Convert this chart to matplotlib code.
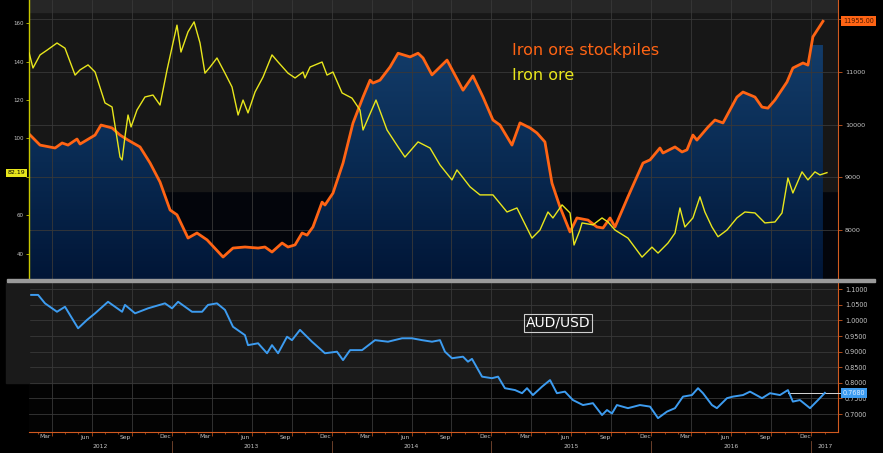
import numpy as np
import matplotlib.pyplot as plt
import matplotlib.transforms as mtransforms
from matplotlib.colors import LinearSegmentedColormap
from matplotlib.patches import Rectangle

# Iron ore stockpiles (right axis, top panel)
stock_t = [2012.116, 2012.178, 2012.272, 2012.316, 2012.353, 2012.409, 2012.428, 2012.522, 2012.559, 2012.628,
           2012.678, 2012.728, 2012.803, 2012.866, 2012.928, 2012.991, 2013.034, 2013.103, 2013.159, 2013.222,
           2013.322, 2013.384, 2013.459, 2013.541, 2013.584, 2013.628, 2013.691, 2013.728, 2013.772, 2013.816,
           2013.847, 2013.884, 2013.941, 2013.959, 2014.009, 2014.072, 2014.134, 2014.197, 2014.241, 2014.259,
           2014.303, 2014.366, 2014.416, 2014.491, 2014.541, 2014.572, 2014.628, 2014.722, 2014.822, 2014.884,
           2014.947, 2015.009, 2015.053, 2015.128, 2015.178, 2015.241, 2015.284, 2015.334, 2015.378, 2015.428,
           2015.491, 2015.534, 2015.603, 2015.659, 2015.697, 2015.741, 2015.772, 2015.853, 2015.947, 2015.991,
           2016.053, 2016.072, 2016.147, 2016.191, 2016.222, 2016.259, 2016.284, 2016.353, 2016.397, 2016.447,
           2016.534, 2016.572, 2016.647, 2016.691, 2016.728, 2016.772, 2016.847, 2016.884, 2016.947, 2016.978,
           2017.009, 2017.072]
stock_v = [9800, 9610, 9555, 9650, 9610, 9725, 9630, 9800, 9990, 9935,
           9800, 9705, 9575, 9270, 8910, 8380, 8290, 7850, 7945, 7815,
           7490, 7660, 7680, 7660, 7680, 7585, 7755, 7680, 7720, 7945,
           7905, 8060, 8530, 8475, 8700, 9270, 10025, 10520, 10840, 10785,
           10840, 11090, 11350, 11280, 11350, 11260, 10940, 11220, 10650, 10920,
           10520, 10085, 9990, 9610, 10030, 9935, 9840, 9670, 8890, 8440,
           7965, 8230, 8190, 8060, 8040, 8230, 8060, 8630, 9270, 9330,
           9555, 9460, 9575, 9480, 9520, 9800, 9705, 9950, 10085, 10030,
           10520, 10615, 10520, 10330, 10310, 10465, 10805, 11070, 11165, 11125,
           11660, 11955]

# Iron ore price (left axis, top panel)
ore_t = [2012.110, 2012.134, 2012.178, 2012.222, 2012.284, 2012.334, 2012.397, 2012.428, 2012.478, 2012.522,
         2012.584, 2012.628, 2012.678, 2012.691, 2012.709, 2012.728, 2012.747, 2012.784, 2012.834, 2012.884,
         2012.928, 2012.972, 2013.009, 2013.034, 2013.059, 2013.103, 2013.141, 2013.178, 2013.209, 2013.241,
         2013.284, 2013.334, 2013.378, 2013.416, 2013.447, 2013.478, 2013.522, 2013.572, 2013.628, 2013.666,
         2013.728, 2013.772, 2013.822, 2013.834, 2013.866, 2013.941, 2013.972, 2014.009, 2014.066, 2014.128,
         2014.178, 2014.197, 2014.278, 2014.347, 2014.416, 2014.459, 2014.541, 2014.616, 2014.678, 2014.753,
         2014.784, 2014.866, 2014.928, 2015.009, 2015.097, 2015.159, 2015.253, 2015.303, 2015.353, 2015.384,
         2015.441, 2015.491, 2015.516, 2015.553, 2015.566, 2015.634, 2015.691, 2015.728, 2015.772, 2015.853,
         2015.941, 2016.003, 2016.041, 2016.103, 2016.147, 2016.178, 2016.209, 2016.259, 2016.303, 2016.334,
         2016.378, 2016.416, 2016.472, 2016.534, 2016.584, 2016.647, 2016.709, 2016.772, 2016.816, 2016.853,
         2016.884, 2016.941, 2016.978, 2017.022, 2017.053, 2017.097]
ore_v = [144.5, 136.7, 143.5, 146.0, 149.7, 147.0, 133.0, 135.7, 138.3, 134.6,
         118.5, 116.4, 90.3, 88.8, 101.0, 112.2, 106.0, 114.8, 121.6, 122.6,
         117.4, 135.7, 149.7, 159.0, 145.0, 155.5, 160.7, 149.7, 134.0, 137.2,
         141.9, 134.0, 126.8, 112.2, 120.0, 113.3, 124.2, 132.0, 143.5, 139.8,
         134.0, 131.5, 134.6, 131.5, 137.2, 139.8, 133.0, 134.6, 123.7, 121.0,
         114.8, 104.4, 120.0, 104.4, 95.6, 90.3, 98.2, 95.0, 86.2, 78.4,
         83.6, 74.8, 70.6, 70.6, 61.7, 63.8, 48.1, 52.3, 61.7, 58.6,
         65.4, 61.2, 44.5, 52.3, 56.0, 55.0, 58.6, 56.5, 52.3, 48.1,
         38.2, 43.4, 40.3, 45.5, 50.7, 63.8, 53.9, 58.6, 69.6, 61.7,
         53.9, 48.8, 52.3, 58.6, 61.7, 61.2, 56.0, 56.5, 61.2, 79.4,
         71.6, 82.6, 78.4, 82.6, 81.0, 82.19]

# AUD/USD (bottom panel)
aud_t = [2012.116, 2012.166, 2012.209, 2012.284, 2012.334, 2012.416, 2012.472, 2012.522, 2012.603, 2012.691,
         2012.709, 2012.772, 2012.853, 2012.959, 2013.003, 2013.041, 2013.128, 2013.191, 2013.228, 2013.284,
         2013.334, 2013.384, 2013.459, 2013.478, 2013.541, 2013.597, 2013.628, 2013.666, 2013.722, 2013.753,
         2013.803, 2013.878, 2013.959, 2014.034, 2014.072, 2014.116, 2014.191, 2014.272, 2014.353, 2014.441,
         2014.503, 2014.566, 2014.628, 2014.678, 2014.709, 2014.753, 2014.822, 2014.853, 2014.878, 2014.941,
         2015.003, 2015.041, 2015.084, 2015.147, 2015.191, 2015.222, 2015.259, 2015.316, 2015.366, 2015.409,
         2015.459, 2015.509, 2015.572, 2015.634, 2015.691, 2015.722, 2015.753, 2015.784, 2015.853, 2015.928,
         2015.991, 2016.041, 2016.097, 2016.147, 2016.197, 2016.253, 2016.291, 2016.322, 2016.378, 2016.409,
         2016.472, 2016.509, 2016.572, 2016.616, 2016.691, 2016.741, 2016.803, 2016.853, 2016.884, 2016.928,
         2016.991, 2017.041, 2017.084]
aud_v = [1.082, 1.082, 1.055, 1.028, 1.044, 0.975, 1.002, 1.023, 1.060, 1.028,
         1.050, 1.023, 1.039, 1.055, 1.039, 1.060, 1.028, 1.028, 1.050, 1.055,
         1.034, 0.980, 0.953, 0.921, 0.927, 0.895, 0.921, 0.895, 0.948, 0.937,
         0.970, 0.932, 0.895, 0.900, 0.873, 0.905, 0.905, 0.937, 0.932, 0.943,
         0.943, 0.937, 0.932, 0.937, 0.900, 0.879, 0.884, 0.868, 0.877, 0.820,
         0.815, 0.820, 0.783, 0.777, 0.767, 0.783, 0.761, 0.788, 0.809, 0.767,
         0.772, 0.745, 0.729, 0.735, 0.697, 0.713, 0.702, 0.729, 0.719, 0.729,
         0.724, 0.687, 0.708, 0.719, 0.756, 0.761, 0.783, 0.767, 0.729, 0.719,
         0.751, 0.756, 0.761, 0.772, 0.751, 0.767, 0.761, 0.777, 0.740, 0.745,
         0.719, 0.745, 0.768]

ORE_LAST = 82.19
STOCK_LAST = 11955.00
AUD_LAST = 0.7680
AUD_REF_START = 2016.853

month_names = ['Mar', 'Jun', 'Sep', 'Dec']
years = [2012, 2013, 2014, 2015, 2016, 2017]
ore_ticks = [40, 60, 80, 100, 120, 140, 160]
stock_ticks = [8000, 9000, 10000, 11000, 12000]
aud_ticks = [0.70, 0.75, 0.80, 0.85, 0.90, 0.95, 1.00, 1.05, 1.10]

XMIN, XMAX = 2012.109, 2017.166
ORANGE = '#ff6414'
YELLOW = '#e8e61c'
BLUE = '#3d9cf0'
GRID = '#383838'
LBL = '#c4c4c4'
AXOR = '#d05a20'

W, H = 883, 453


def rect(x0, y0, x1, y1):
    return [x0 / W, 1 - y1 / H, (x1 - x0) / W, (y1 - y0) / H]


fig = plt.figure(figsize=(W / 100, H / 100), dpi=100, facecolor='black')

# panel backgrounds that reach past the axes, and the divider bar
fig.patches.append(Rectangle((6 / W, 1 - 383 / H), 23 / W, 100 / H, transform=fig.transFigure,
                             color='#1a1a1a', zorder=0))
fig.patches.append(Rectangle((7 / W, 1 - 282 / H), 868 / W, 3 / H, transform=fig.transFigure,
                             color='#9a9a9a', zorder=5))

# ---------------- top panel ----------------
ax = fig.add_axes(rect(29, 0, 838, 279))
ax.set_facecolor('#03050b')
ax.add_patch(Rectangle((0, 88 / 279), 1, 1 - 88 / 279, transform=ax.transAxes, color='#171717', zorder=0))
ax.add_patch(Rectangle((0, 1 - 12 / 279), 1, 12 / 279, transform=ax.transAxes, color='#262626', zorder=0))

# gradient fill under stockpiles
poly = ax.fill_between(stock_t, stock_v, 7074, color='none', lw=0)
cmap = LinearSegmentedColormap.from_list('fill', ['#011637', '#092a52', '#133c69'])
grad = np.linspace(1, 0, 256).reshape(-1, 1)
im = ax.imshow(grad, extent=[XMIN, XMAX, 7074, 11500], aspect='auto', cmap=cmap, zorder=1,
               interpolation='bicubic')
im.set_clip_path(poly.get_paths()[0], transform=ax.transData)

ax.plot(stock_t, stock_v, color=ORANGE, lw=2.0, zorder=4, solid_joinstyle='round')
ax.set_xlim(XMIN, XMAX)
ax.set_ylim(7074, 12358)

qticks = [y + q / 4 for y in range(2012, 2017) for q in range(4)] + [2017]
qticks = [q for q in qticks if XMIN < q < XMAX]
ax.set_xticks(qticks)
ax.tick_params(axis='x', length=0, labelbottom=False)
ax.grid(True, axis='x', color=GRID, lw=0.6)
ax.grid(True, axis='y', color=GRID, lw=0.6)
ax.set_axisbelow(False)
for gl in ax.get_xgridlines() + ax.get_ygridlines():
    gl.set_zorder(2)

axo = ax.twinx()
# twinx moves the original ticks to the left, so set sides afterwards
ax.yaxis.tick_right()
axo.yaxis.tick_left()
ax.set_yticks(stock_ticks)
ax.set_yticklabels([str(v) if v < 12000 else '' for v in stock_ticks])
ax.tick_params(axis='y', colors=AXOR, labelcolor=LBL, labelsize=4.6, length=3, width=0.6, pad=2,
               left=False, labelleft=False, right=True, labelright=True)

for s in ['top', 'bottom', 'left', 'right']:
    ax.spines[s].set_visible(False)

axo.set_ylim(26.8, 172.1)
axo.plot(ore_t, ore_v, color=YELLOW, lw=1.0, zorder=5)
axo.set_yticks(ore_ticks)
# the 80 label sits under the last-price tag
axo.set_yticklabels(['' if v == 80 else str(v) for v in ore_ticks])
axo.tick_params(axis='y', colors='#c8c800', labelcolor=LBL, labelsize=4, length=2, width=0.6, pad=2,
                right=False, labelright=False, left=True, labelleft=True)
for s in ['top', 'bottom']:
    axo.spines[s].set_visible(False)
axo.spines['left'].set_color('#c8c800')
axo.spines['left'].set_linewidth(1.0)
axo.spines['right'].set_color(AXOR)
axo.spines['right'].set_linewidth(0.8)

tr_l = mtransforms.blended_transform_factory(axo.transAxes, axo.transData)
axo.text(-0.004, ORE_LAST, f'{ORE_LAST:.2f}', transform=tr_l, ha='right', va='center', fontsize=4.5,
         color='black', zorder=10, clip_on=False,
         bbox=dict(boxstyle='square,pad=0.25', fc=YELLOW, ec='none'))
tr_r = mtransforms.blended_transform_factory(ax.transAxes, ax.transData)
ax.text(1.006, STOCK_LAST, f'{STOCK_LAST:.2f}', transform=tr_r, ha='left', va='center', fontsize=4.7,
        color='#4a1800', zorder=10, clip_on=False,
        bbox=dict(boxstyle='square,pad=0.3', fc=ORANGE, ec='none'))

fig.text(512 / W, 1 - 50 / H, 'Iron ore stockpiles', color=ORANGE, fontsize=11.5, va='center', ha='left')
fig.text(512 / W, 1 - 75 / H, 'Iron ore', color=YELLOW, fontsize=11.5, va='center', ha='left')

# ---------------- bottom panel ----------------
axb = fig.add_axes(rect(29, 283, 838, 432))
axb.set_facecolor('#030303')
axb.add_patch(Rectangle((0, 49 / 149), 1, 1 - 49 / 149, transform=axb.transAxes, color='#1a1a1a', zorder=0))
axb.set_xlim(XMIN, XMAX)
axb.set_ylim(0.6426, 1.1202)
axb.plot(aud_t, aud_v, color=BLUE, lw=1.4, zorder=4)
axb.plot([AUD_REF_START, XMAX + 0.02], [AUD_LAST, AUD_LAST], color='#d8d8d8', lw=0.7, zorder=3, clip_on=False)

axb.yaxis.tick_right()
axb.set_yticks(aud_ticks)
axb.set_yticklabels([f'{v:.4f}' for v in aud_ticks])
axb.tick_params(axis='y', colors=AXOR, labelcolor=LBL, labelsize=4.7, length=3, width=0.6, pad=2)
axb.grid(True, axis='y', color=GRID, lw=0.6)
axb.set_xticks(qticks)
axb.set_xticks([y + m / 12 for y in range(2012, 2018) for m in range(12) if XMIN < y + m / 12 < XMAX],
               minor=True)
axb.tick_params(axis='x', which='both', labelbottom=False, colors=AXOR, width=0.5)
axb.tick_params(axis='x', which='major', length=3)
axb.tick_params(axis='x', which='minor', length=1.5)
axb.grid(True, axis='x', color=GRID, lw=0.6)
for s in ['top', 'left']:
    axb.spines[s].set_visible(False)
for s in ['right', 'bottom']:
    axb.spines[s].set_color(AXOR)
    axb.spines[s].set_linewidth(0.8)

tr_b = mtransforms.blended_transform_factory(axb.transAxes, axb.transData)
axb.text(1.006, AUD_LAST, f'{AUD_LAST:.4f}', transform=tr_b, ha='left', va='center', fontsize=4.7,
         color='#dcecff', zorder=10, clip_on=False,
         bbox=dict(boxstyle='square,pad=0.3', fc=BLUE, ec='none'))

fig.text(558 / W, 1 - 323 / H, 'AUD/USD', color='white', fontsize=10, va='center', ha='center',
         bbox=dict(boxstyle='square,pad=0.15', fc='none', ec='#cfcfcf', lw=0.8))

# x-axis labels: months at mid-month, years centred on their visible span
tx = mtransforms.blended_transform_factory(axb.transData, fig.transFigure)
for y in range(2012, 2017):
    for i, name in enumerate(month_names):
        pos = y + (3 * i + 2.5) / 12
        if XMIN < pos < XMAX:
            axb.text(pos, 1 - 437 / H, name, transform=tx, ha='center', va='center', fontsize=4.3,
                     color=LBL, clip_on=False)
for y in years:
    lo, hi = max(y, XMIN), min(y + 1, XMAX)
    axb.text((lo + hi) / 2, 1 - 447 / H, str(y), transform=tx, ha='center', va='center', fontsize=4.3,
             color=LBL, clip_on=False)
    if XMIN < y < XMAX:
        axb.plot([y, y], [1 - 441 / H, 1 - 453 / H], transform=tx, color='#7a4a30', lw=0.6, clip_on=False)

fig.savefig('out.png', dpi=100, facecolor='black')
